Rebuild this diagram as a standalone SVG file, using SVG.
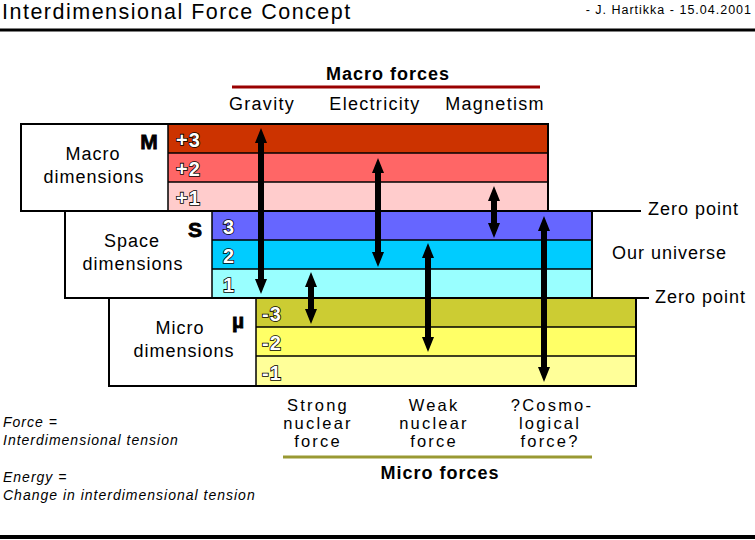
<svg xmlns="http://www.w3.org/2000/svg" width="755" height="540" viewBox="0 0 755 540">
<defs>
<style>
text{font-family:"Liberation Sans",Arial,sans-serif;fill:#000}
.lbl{font-size:18px;letter-spacing:1px;text-anchor:middle}
.num{font-size:20px;font-weight:bold;letter-spacing:1px;fill:#fff;stroke:#000;stroke-width:1.6px;paint-order:stroke}
.let{font-size:21px;font-weight:bold;text-anchor:middle;stroke:#000;stroke-width:0.8px}
.frc{font-size:18px;letter-spacing:1.3px;text-anchor:middle}
.frs{font-size:16.5px;letter-spacing:2.2px;text-anchor:middle}
.big{font-size:18px;letter-spacing:1px}
.bold{font-size:18px;font-weight:bold;letter-spacing:1px;text-anchor:middle}
.ita{font-size:14px;font-style:italic;letter-spacing:1px}
.box{fill:none;stroke:#000;stroke-width:2}
.sep{stroke:#000;stroke-width:1.5}
.arr{stroke:#000;stroke-width:6;fill:none;marker-start:url(#ah);marker-end:url(#ah)}
</style>
<marker id="ah" viewBox="0 0 10 10" refX="5" refY="5" markerWidth="2.5" markerHeight="2" orient="auto-start-reverse" markerUnits="strokeWidth" preserveAspectRatio="none">
<path d="M0,0 L10,5 L0,10 z" fill="#000"/>
</marker>
</defs>
<rect width="755" height="540" fill="#fff"/>
<g id="header">
<text x="2" y="19" style="font-size:21.5px;letter-spacing:1.5px">Interdimensional Force Concept</text>
<text x="752" y="14" style="font-size:12.5px;letter-spacing:1px;text-anchor:end">- J. Hartikka - 15.04.2001</text>
<line x1="0" y1="30" x2="755" y2="30" stroke="#000" stroke-width="3"/>
<line x1="0" y1="537" x2="755" y2="537" stroke="#000" stroke-width="4"/>
</g>
<g id="macro">
<rect x="21" y="124" width="147" height="87" fill="#fff"/>
<rect x="168" y="124" width="380" height="29" fill="#cc3300"/>
<rect x="168" y="153" width="380" height="29" fill="#ff6666"/>
<rect x="168" y="182" width="380" height="29" fill="#ffcccc"/>
<line class="sep" x1="168" y1="153" x2="548" y2="153"/>
<line class="sep" x1="168" y1="182" x2="548" y2="182"/>
<line class="sep" x1="168" y1="124" x2="168" y2="211"/>
<rect class="box" x="21" y="124" width="527" height="87"/>
<text class="lbl" x="93" y="160">Macro</text>
<text class="lbl" x="94" y="183">dimensions</text>
<text class="let" x="149" y="149">M</text>
<text class="num" x="176" y="147">+3</text>
<text class="num" x="176" y="176">+2</text>
<text class="num" x="176" y="205">+1</text>
</g>
<g id="space">
<rect x="65" y="211" width="147" height="87" fill="#fff"/>
<rect x="212" y="211" width="380" height="29" fill="#6666ff"/>
<rect x="212" y="240" width="380" height="29" fill="#00ccff"/>
<rect x="212" y="269" width="380" height="29" fill="#99ffff"/>
<line class="sep" x1="212" y1="240" x2="592" y2="240"/>
<line class="sep" x1="212" y1="269" x2="592" y2="269"/>
<line class="sep" x1="212" y1="211" x2="212" y2="298"/>
<rect class="box" x="65" y="211" width="527" height="87"/>
<text class="lbl" x="132" y="247">Space</text>
<text class="lbl" x="133" y="270">dimensions</text>
<text class="let" x="195" y="237">S</text>
<text class="num" x="223" y="234">3</text>
<text class="num" x="223" y="263">2</text>
<text class="num" x="223" y="292">1</text>
</g>
<g id="micro">
<rect x="109" y="298" width="147" height="88" fill="#fff"/>
<rect x="256" y="298" width="380" height="29" fill="#cccc33"/>
<rect x="256" y="327" width="380" height="29" fill="#ffff66"/>
<rect x="256" y="356" width="380" height="30" fill="#ffff99"/>
<line class="sep" x1="256" y1="327" x2="636" y2="327"/>
<line class="sep" x1="256" y1="356" x2="636" y2="356"/>
<line class="sep" x1="256" y1="298" x2="256" y2="386"/>
<rect class="box" x="109" y="298" width="527" height="88"/>
<text class="lbl" x="180" y="334">Micro</text>
<text class="lbl" x="184" y="357">dimensions</text>
<text class="let" x="238" y="328">µ</text>
<text class="num" x="262" y="321">-3</text>
<text class="num" x="262" y="350">-2</text>
<text class="num" x="262" y="380">-1</text>
</g>
<g id="zero-points">
<line x1="548" y1="211" x2="641" y2="211" stroke="#000" stroke-width="2"/>
<text class="big" x="648" y="215">Zero point</text>
<line x1="592" y1="298" x2="649" y2="298" stroke="#000" stroke-width="2"/>
<text class="big" x="655" y="303">Zero point</text>
<text class="big" x="612" y="259">Our universe</text>
</g>
<g id="macro-forces">
<text class="bold" x="388" y="80">Macro forces</text>
<line x1="232" y1="87" x2="540" y2="87" stroke="#990000" stroke-width="3"/>
<text class="frc" x="262" y="110">Gravity</text>
<text class="frc" x="375" y="110">Electricity</text>
<text class="frc" x="495" y="110">Magnetism</text>
</g>
<g id="micro-forces">
<text class="frs" x="318" y="411">Strong</text>
<text class="frs" x="318" y="429">nuclear</text>
<text class="frs" x="318" y="447">force</text>
<text class="frs" x="434" y="411">Weak</text>
<text class="frs" x="434" y="429">nuclear</text>
<text class="frs" x="434" y="447">force</text>
<text class="frs" x="552" y="411">?Cosmo-</text>
<text class="frs" x="550" y="429">logical</text>
<text class="frs" x="550" y="447">force?</text>
<line x1="283" y1="457" x2="592" y2="457" stroke="#999933" stroke-width="3"/>
<text class="bold" x="440" y="479">Micro forces</text>
</g>
<g id="connectors">
<line class="arr" x1="261" y1="135.5" x2="261" y2="286.5"/>
<line class="arr" x1="378" y1="165.5" x2="378" y2="259.5"/>
<line class="arr" x1="494" y1="193.5" x2="494" y2="230.5"/>
<line class="arr" x1="311" y1="279.5" x2="311" y2="316.5"/>
<line class="arr" x1="428" y1="250.5" x2="428" y2="344.5"/>
<line class="arr" x1="544" y1="223.5" x2="544" y2="374.5"/>
</g>
<g id="notes">
<text class="ita" x="3" y="427">Force =</text>
<text class="ita" x="3" y="445">Interdimensional tension</text>
<text class="ita" x="3" y="482">Energy =</text>
<text class="ita" x="3" y="500">Change in interdimensional tension</text>
</g>
</svg>
